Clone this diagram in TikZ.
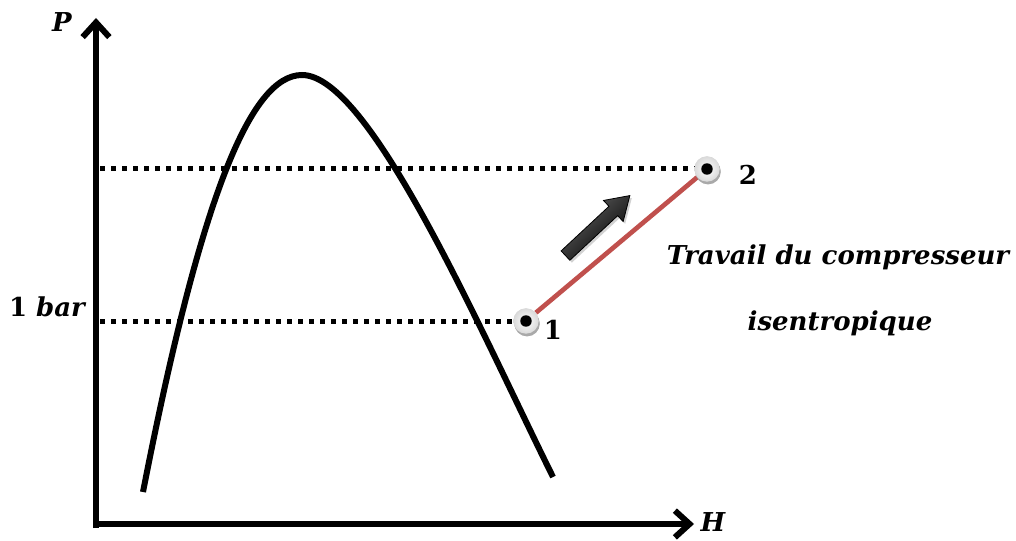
\documentclass[tikz,border=0pt]{standalone}
\usepackage{fontspec}
\setmainfont{DejaVu Serif}
\usetikzlibrary{arrows.meta,positioning,shapes.arrows,shadows}
\definecolor{rougeTrait}{HTML}{C0504D}
\definecolor{grisPoint}{HTML}{D9D9D9}
\definecolor{grisOmbre}{HTML}{A6A6A6}

\begin{document}
\begin{tikzpicture}[x=0.75pt,y=-0.75pt,
  every node/.style={font=\bfseries\itshape\fontsize{19.5}{23}\selectfont},
  chiffre/.style={font=\bfseries\fontsize{19.5}{23}\selectfont},
  axe/.style={line width=4.5pt,-{Straight Barb[length=11pt,width=20pt]}},
  pointille/.style={line width=3.75pt,dash pattern=on 3.75pt off 4.5pt},
  etat/.style={circle,minimum size=19pt,inner sep=0pt,
    inner color=white,outer color=grisPoint,
    drop shadow={shadow xshift=0.8pt,shadow yshift=-2pt,fill=grisOmbre,opacity=0.8},
    path picture={\fill[black] (path picture bounding box.center) circle (4.3pt);}}]
\useasboundingbox (0,0) rectangle (1016,541);
% axes
\coordinate (o) at (96,524);
\coordinate (ymax) at (96,18);
\coordinate (xmax) at (694,524);
\draw[axe] (96,528) -- (ymax);
\draw[axe] (93,524) -- (xmax);
\node (P) at (62,22) {P};
\node (H) at (713,522) {H};
% courbe de saturation
\draw[line width=4.5pt] (143,492) .. controls (200,200) and (250,75) .. (302,75)
  .. controls (370,75) and (480,330) .. (553,477);
% etats 1 et 2
\node[etat] (p1) at (526,321) {};
\node[etat] (p2) at (707,169) {};
\coordinate (a1) at (100,321);
\coordinate (a2) at (100,169);
\draw[pointille] (a1) -- (p1.west);
\draw[pointille] (a2) -- (p2.west);
\draw[rougeTrait,line width=3.5pt] (p1) -- (p2);
\node[etat] at (p1) {};
\node[etat] at (p2) {};
\node[chiffre] (n1) at (553,330) {1};
\node[chiffre] (n2) at (748,175) {2};
\node (bar) at (47,307) {{\upshape 1} bar};
% fleche de compression
\node[single arrow,draw=black,line width=0.6pt,rotate=43,
  minimum height=66pt,minimum width=21pt,single arrow head extend=6pt,
  single arrow tip angle=65,inner xsep=0pt,inner ysep=4.5pt,
  top color=grisOmbre!60!black,bottom color=black,shading angle=43,
  drop shadow={shadow xshift=1.5pt,shadow yshift=-1.8pt,fill=grisOmbre}]
  (fleche) at (594,229) {};
% texte
\node (t1) at (838,257) {Travail du compresseur};
\node (t2) at (840,323) {isentropique};
\end{tikzpicture}
\end{document}
